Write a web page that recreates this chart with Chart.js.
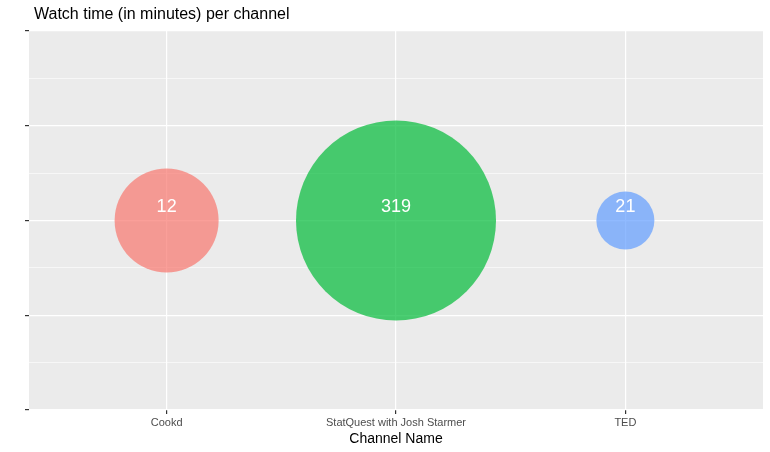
<!DOCTYPE html>
<html>
<head>
<script src="https://cdn.jsdelivr.net/npm/chart.js@4/dist/chart.umd.min.js"></script>
<style>
  body { margin: 0; background: #fff; }
  #wrap { width: 770px; height: 452px; }
</style>
</head>
<body>
<div id="wrap"><canvas id="chart"></canvas></div>
<script>
const chartTitle = 'Watch time (in minutes) per channel';
const channels = ['Cookd', 'StatQuest with Josh Starmer', 'TED'];
const minutes = [12, 319, 21];
const radii = [52, 100, 29];
const colors = ['rgba(248,118,109,0.7)', 'rgba(0,186,56,0.7)', 'rgba(97,156,255,0.7)'];

const valueLabels = {
  id: 'valueLabels',
  afterDatasetsDraw(chart) {
    const ctx = chart.ctx;
    const meta = chart.getDatasetMeta(0);
    ctx.save();
    ctx.fillStyle = '#fff';
    ctx.font = '18px "Liberation Sans", Arial, sans-serif';
    ctx.textAlign = 'center';
    ctx.textBaseline = 'middle';
    meta.data.forEach((pt, i) => {
      ctx.fillText(String(minutes[i]), pt.x, pt.y - 13);
    });
    ctx.restore();
  }
};

const panelBg = {
  id: 'panelBg',
  beforeDraw(chart) {
    const a = chart.chartArea;
    const ctx = chart.ctx;
    ctx.save();
    ctx.fillStyle = '#EBEBEB';
    ctx.fillRect(a.left, a.top, a.right - a.left, a.bottom - a.top);
    ctx.fillStyle = '#000';
    ctx.font = '16px "Liberation Sans", Arial, sans-serif';
    ctx.textBaseline = 'middle';
    ctx.fillText(chartTitle, a.left + 5, 15);
    ctx.restore();
  }
};

new Chart(document.getElementById('chart'), {
  type: 'bubble',
  data: {
    datasets: [{
      data: channels.map((c, i) => ({ x: i + 1, y: 2, r: radii[i] })),
      backgroundColor: colors,
      borderWidth: 0,
      hoverRadius: 0
    }]
  },
  options: {
    responsive: true,
    maintainAspectRatio: false,
    animation: false,
    layout: { autoPadding: false, padding: { left: 25, right: 7, top: 31, bottom: 4 } },
    plugins: {
      legend: { display: false },
      tooltip: { enabled: false },
      title: { display: false }
    },
    scales: {
      x: {
        type: 'linear',
        min: 0.4,
        max: 3.6,
        afterBuildTicks(axis) { axis.ticks = [1, 2, 3].map(v => ({ value: v })); },
        ticks: {
          callback: v => channels[v - 1] || '',
          color: '#4D4D4D',
          font: { family: '"Liberation Sans", Arial, sans-serif', size: 11 },
          padding: 2
        },
        grid: { color: '#fff', lineWidth: 1.2, tickColor: '#333', tickLength: 4 },
        border: { display: false },
        title: {
          display: true,
          text: 'Channel Name',
          color: '#000',
          font: { family: '"Liberation Sans", Arial, sans-serif', size: 14 },
          padding: { top: 0, bottom: 0 }
        }
      },
      y: {
        min: 0,
        max: 4,
        ticks: { stepSize: 0.5, callback: () => '', padding: 0 },
        grid: {
          color: '#fff',
          lineWidth: ctx => (ctx.tick && Number.isInteger(ctx.tick.value)) ? 1.2 : 0.6,
          tickColor: ctx => (ctx.tick && Number.isInteger(ctx.tick.value)) ? '#333' : 'rgba(0,0,0,0)',
          tickLength: 4
        },
        border: { display: false }
      }
    }
  },
  plugins: [panelBg, valueLabels]
});
</script>
</body>
</html>
